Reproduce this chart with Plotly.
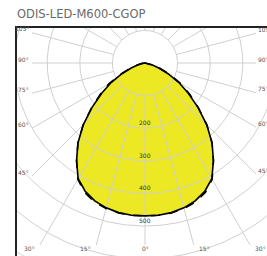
import numpy as np
import plotly.graph_objects as go

# ---------------- data ----------------
title_text = "ODIS-LED-M600-CGOP"
angles_deg = [0, 5, 10, 15, 20, 25, 30, 35, 40, 45, 50, 55, 60, 65, 70, 75, 80, 85, 90]
c0_cd = [469, 469, 466, 460, 450, 434, 410, 366, 320, 268, 212, 162, 120, 78, 45, 22, 10, 4, 0]
c90_cd = [469, 469, 467, 462, 454, 438, 412, 366, 320, 268, 214, 168, 128, 86, 50, 24, 11, 4, 0]
radial_ticks = [200, 300, 400, 500]
grid_circles = [100, 200, 300, 400, 500, 600, 700, 800]
angle_ticks = [0, 15, 30, 45, 60, 75, 90, 105]

# ---------------- geometry (pixels) ----------------
W, H = 267, 256
L, T = 17, 28
cx_px, cy_px = 145, 63
px_per_cd = 0.326
plot_w, plot_h = W - L, H - T
x0 = -(cx_px - L) / px_per_cd
x1 = x0 + plot_w / px_per_cd
y1 = (cy_px - T) / px_per_cd
y0 = y1 - plot_h / px_per_cd
# inset box where radial lines stop
box_l = (32 - cx_px) / px_per_cd
box_r = (256 - cx_px) / px_per_cd
box_b = -(245 - cy_px) / px_per_cd
box_t = 400

def to_xy(ang, r):
    a = np.radians(np.asarray(ang, dtype=float))
    r = np.asarray(r, dtype=float)
    return r * np.sin(a), -r * np.cos(a)

def full_curve(vals):
    ang = [-a for a in angles_deg[::-1]] + angles_deg[1:]
    rr = vals[::-1] + vals[1:]
    return to_xy(ang, rr)

fig = go.Figure()

grid_col = "#d0d0d0"
yellow = "#ECE823"

# fills
for vals in (c90_cd, c0_cd):
    fx, fy = full_curve(vals)
    fig.add_trace(go.Scatter(x=fx, y=fy, mode="lines", fill="toself",
                             fillcolor=yellow, line=dict(width=0),
                             hoverinfo="skip", showlegend=False))

# grid circles
t = np.linspace(0, 360, 361)
for r in grid_circles:
    gx, gy = to_xy(t, np.full_like(t, r))
    fig.add_trace(go.Scatter(x=gx, y=gy, mode="lines",
                             line=dict(color=grid_col, width=1),
                             hoverinfo="skip", showlegend=False))

# radial lines
def ray_end(a):
    dx, dy = np.sin(np.radians(a)), -np.cos(np.radians(a))
    ts = []
    if dx > 1e-9: ts.append(box_r / dx)
    if dx < -1e-9: ts.append(box_l / dx)
    if dy > 1e-9: ts.append(box_t / dy)
    if dy < -1e-9: ts.append(box_b / dy)
    tt = min(ts)
    return tt * dx, tt * dy

rx, ry = [], []
for a in range(0, 360, 15):
    sx, sy = to_xy(a, 100)
    ex, ey = ray_end(a)
    rx += [float(sx), ex, None]
    ry += [float(sy), ey, None]
fig.add_trace(go.Scatter(x=rx, y=ry, mode="lines",
                         line=dict(color=grid_col, width=1),
                         hoverinfo="skip", showlegend=False))

# outlines
for vals, dash in ((c90_cd, "dash"), (c0_cd, "solid")):
    fx, fy = full_curve(vals)
    fig.add_trace(go.Scatter(x=fx, y=fy, mode="lines",
                             line=dict(color="#000000", width=1.6, dash=dash),
                             hoverinfo="skip", showlegend=False))

# radial labels
for r in radial_ticks:
    fig.add_annotation(x=0, y=-r, text=str(r), showarrow=False,
                       xanchor="center", yanchor="bottom", yshift=0,
                       font=dict(family="DejaVu Sans", size=6, color="#333333"))

# angle labels
lab_font = dict(family="DejaVu Sans", size=6, color="#555555")
for a in angle_ticks:
    for side in ([1] if a == 0 else [-1, 1]):
        ex, ey = ray_end(side * a)
        if abs(ey - box_b) < 1e-6:  # bottom edge
            if a == 0:
                xa, xs = "center", 0
            elif side < 0:
                xa, xs = "right", -3
            else:
                xa, xs = "left", 3
            fig.add_annotation(x=ex, y=ey, text=f"{a}°", showarrow=False,
                               xanchor=xa, yanchor="top", xshift=xs, yshift=2,
                               font=lab_font)
        else:
            ly = min(ey, y1 - 3 / px_per_cd)
            fig.add_annotation(x=ex, y=ly, text=f"{a}°", showarrow=False,
                               xanchor="right" if side < 0 else "left",
                               yanchor="middle", xshift=-1 if side < 0 else 0,
                               yshift=4, font=lab_font)

fig.update_layout(
    width=W, height=H,
    margin=dict(l=L, r=0, t=T, b=0),
    paper_bgcolor="white", plot_bgcolor="white",
    title=dict(text=title_text, x=0, xref="paper", xanchor="left",
               y=1 - 14 / H, yref="container", yanchor="middle",
               font=dict(family="DejaVu Sans", size=11.5, color="#6a6a6a")),
    xaxis=dict(range=[x0, x1], showgrid=False, zeroline=False, showticklabels=False,
               ticks="", showline=True, linecolor="#222222", linewidth=1.5, side="top",
               fixedrange=True),
    yaxis=dict(range=[y0, y1], showgrid=False, zeroline=False, showticklabels=False,
               ticks="", showline=True, linecolor="#222222", linewidth=1.5,
               fixedrange=True),
    showlegend=False,
)

fig.write_html("out.html", config={"displayModeBar": False},
               post_script="document.body.style.margin='0px';document.body.style.overflow='hidden';")
